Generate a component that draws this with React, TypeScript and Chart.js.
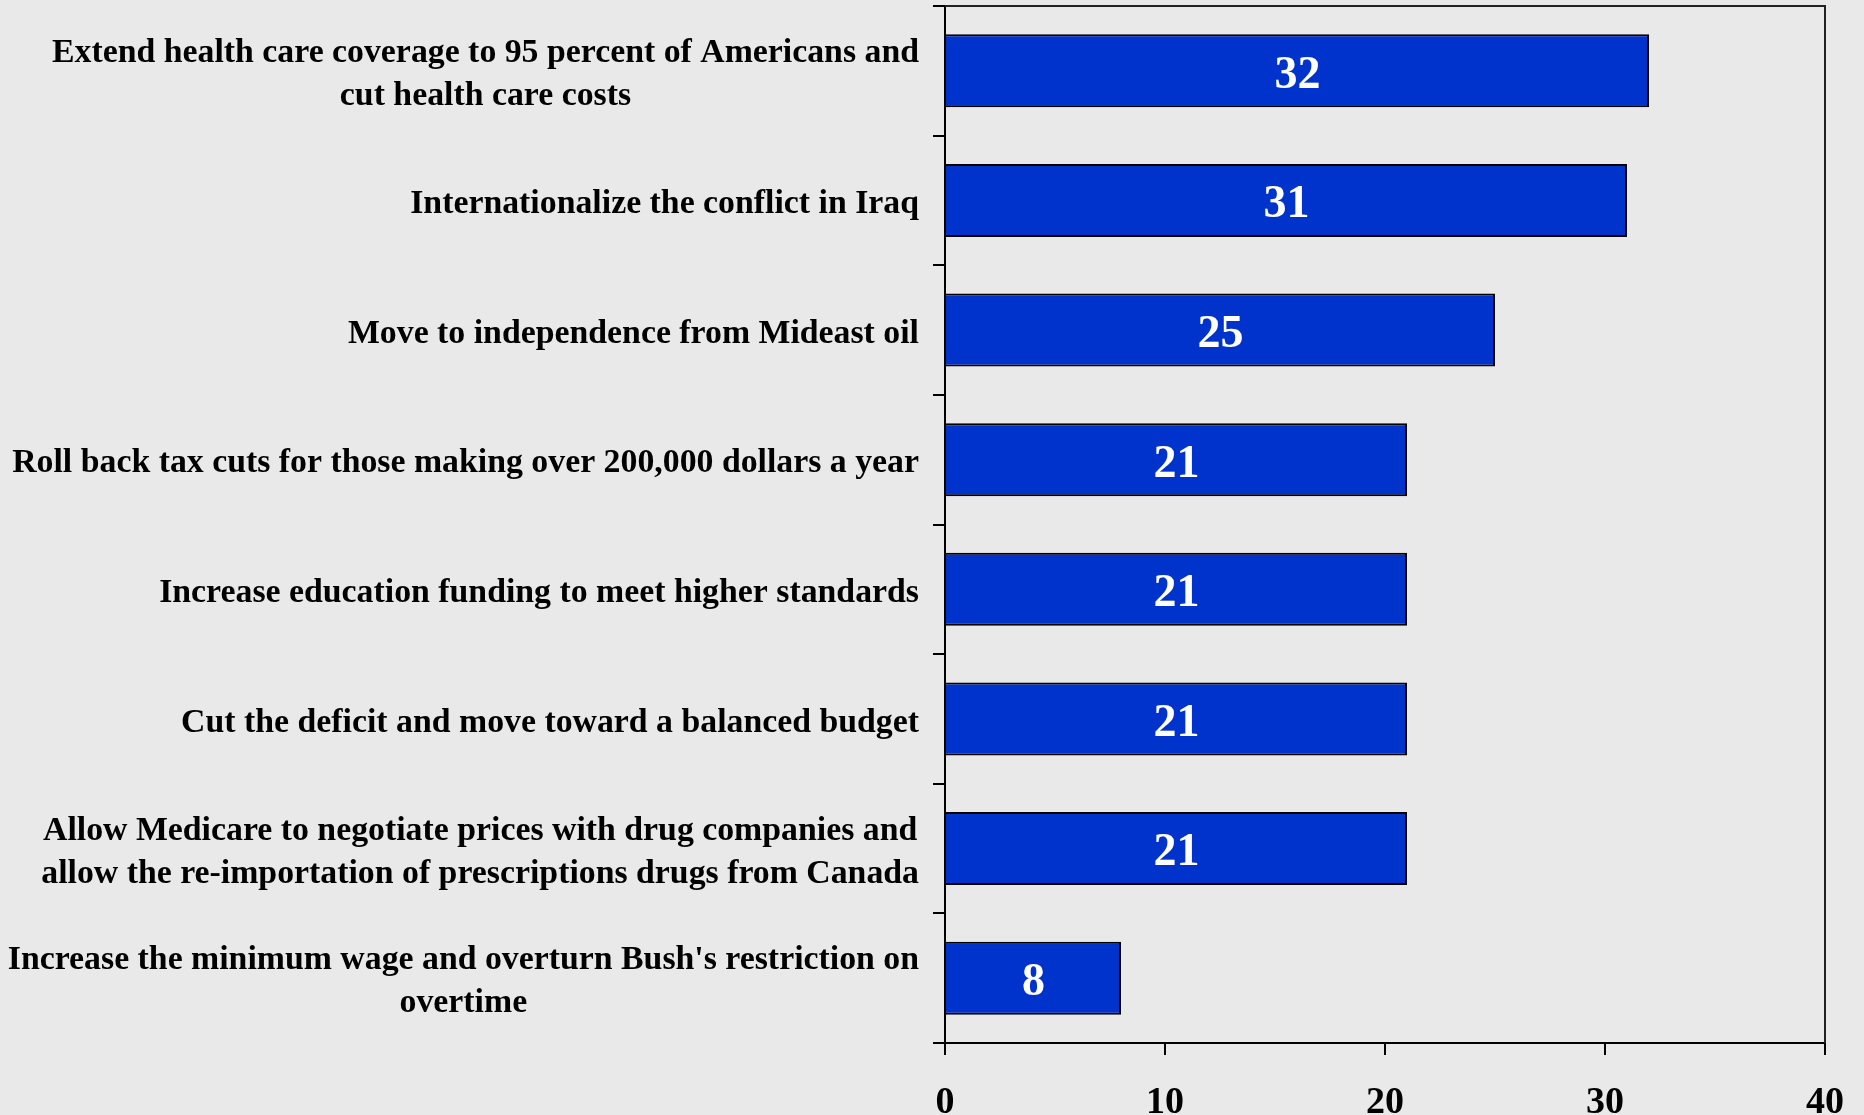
import { useEffect, useRef } from 'react';
import { Chart, registerables } from 'chart.js';

Chart.register(...registerables);

const categories: string[][] = [
  ['Extend health care coverage to 95 percent of Americans and', 'cut health care costs'],
  ['Internationalize the conflict in Iraq'],
  ['Move to independence from Mideast oil'],
  ['Roll back tax cuts for those making over 200,000 dollars a year'],
  ['Increase education funding to meet higher standards'],
  ['Cut the deficit and move toward a balanced budget'],
  ['Allow Medicare to negotiate prices with drug companies and', 'allow the re-importation of prescriptions drugs from Canada'],
  ["Increase the minimum wage and overturn Bush's restriction on", 'overtime'],
];
const values: number[] = [32, 31, 25, 21, 21, 21, 21, 8];
const xTickValues: number[] = [0, 10, 20, 30, 40];

const BG = '#E9E9E9';
const BAR = '#0033CC';
const SERIF = '"Liberation Serif", "Times New Roman", serif';

export default function App() {
  const ref = useRef<HTMLCanvasElement | null>(null);

  useEffect(() => {
    document.body.style.margin = '0';
    document.body.style.background = BG;
    const canvas = ref.current;
    if (!canvas) return;

    const decor = {
      id: 'decor',
      beforeDraw(chart: any) {
        const ctx = chart.ctx;
        ctx.save();
        ctx.fillStyle = BG;
        ctx.fillRect(0, 0, chart.width, chart.height);
        ctx.restore();
      },
      afterDatasetsDraw(chart: any) {
        const ctx = chart.ctx;
        const meta = chart.getDatasetMeta(0);
        ctx.save();
        ctx.fillStyle = '#FFFFFF';
        ctx.font = `bold 46px ${SERIF}`;
        ctx.textAlign = 'center';
        ctx.textBaseline = 'middle';
        meta.data.forEach((el: any, i: number) => {
          const x = (el.base + el.x) / 2;
          ctx.fillText(String(values[i]), x, el.y + 5);
        });
        ctx.restore();
      },
      afterDraw(chart: any) {
        const ctx = chart.ctx;
        const area = chart.chartArea;
        const yScale = chart.scales.y;
        ctx.save();
        // top & right frame
        ctx.strokeStyle = '#222222';
        ctx.lineWidth = 2;
        ctx.beginPath();
        ctx.moveTo(area.left, area.top);
        ctx.lineTo(area.right, area.top);
        ctx.lineTo(area.right, area.bottom);
        ctx.stroke();
        // category labels: block right-aligned, lines centered within block
        ctx.fillStyle = '#000000';
        ctx.font = `bold 33.8px ${SERIF}`;
        ctx.textAlign = 'center';
        ctx.textBaseline = 'middle';
        const rightEdge = area.left - 26;
        const lh = 43;
        categories.forEach((lines, i) => {
          const y = yScale.getPixelForValue(i);
          const w = Math.max(...lines.map((l) => ctx.measureText(l).width));
          const cx = rightEdge - w / 2;
          const y0 = y - ((lines.length - 1) * lh) / 2;
          lines.forEach((l, j) => ctx.fillText(l, cx, y0 + j * lh + 4));
        });
        ctx.restore();
      },
    };

    const chart = new Chart(canvas, {
      type: 'bar',
      data: {
        labels: categories.map((c) => c.join(' ')),
        datasets: [
          {
            data: values,
            backgroundColor: BAR,
            borderColor: '#000000',
            borderWidth: 2,
            borderSkipped: 'start',
            categoryPercentage: 1,
            barPercentage: 0.563,
          },
        ],
      },
      options: {
        indexAxis: 'y',
        responsive: false,
        animation: false,
        devicePixelRatio: 1,
        layout: { padding: { top: 6, right: 39, left: 0, bottom: 0 } },
        plugins: { legend: { display: false }, tooltip: { enabled: false } },
        scales: {
          x: {
            type: 'linear',
            min: 0,
            max: 40,
            afterBuildTicks: (scale: any) => {
              scale.ticks = xTickValues.map((v) => ({ value: v }));
            },
            afterFit: (scale: any) => {
              scale.height = 72;
              scale.paddingLeft = 0;
              scale.paddingRight = 0;
            },
            grid: {
              drawOnChartArea: false,
              drawTicks: true,
              tickLength: 12,
              color: '#000000',
              lineWidth: 2,
            },
            border: { display: true, color: '#000000', width: 2 },
            ticks: {
              color: '#000000',
              padding: 25,
              font: { family: SERIF, size: 38, weight: 'bold' },
            },
          },
          y: {
            type: 'category',
            afterFit: (scale: any) => {
              scale.width = 945;
              scale.paddingTop = 0;
              scale.paddingBottom = 0;
            },
            grid: {
              offset: true,
              drawOnChartArea: false,
              drawTicks: true,
              tickLength: 12,
              color: '#000000',
              lineWidth: 2,
            },
            border: { display: true, color: '#000000', width: 2 },
            ticks: { display: false },
          },
        },
      },
      plugins: [decor],
    } as any);

    return () => chart.destroy();
  }, []);

  return (
    <div style={{ width: 1864, height: 1115 }}>
      <canvas ref={ref} width={1864} height={1115} style={{ display: 'block' }} />
    </div>
  );
}
